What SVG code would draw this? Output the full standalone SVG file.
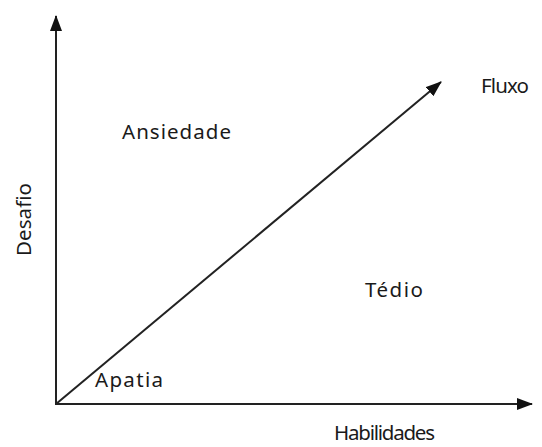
<svg xmlns="http://www.w3.org/2000/svg" width="542" height="447" viewBox="0 0 542 447">
<style>
.ax{stroke:#222;stroke-width:2;fill:none}
.lbl{font-family:"Noto Sans","DejaVu Sans",sans-serif;font-size:20.5px;fill:#1a1a1a}
</style>
<defs>
<marker id="ah" markerUnits="userSpaceOnUse" viewBox="0 0 16 12" refX="15" refY="6" markerWidth="16" markerHeight="12" orient="auto">
<path d="M0,0 L16,6 L0,12 z" fill="#111"/>
</marker>
</defs>
<rect width="542" height="447" fill="#fff"/>
<g id="connectors">
<line class="ax" x1="56" y1="405" x2="56" y2="16" marker-end="url(#ah)"/>
<line class="ax" x1="55" y1="404" x2="532" y2="404" marker-end="url(#ah)"/>
<line class="ax" x1="56" y1="404" x2="441" y2="82" marker-end="url(#ah)"/>
</g>
<g id="ansiedade"><text class="lbl" x="122" y="139" textLength="109" lengthAdjust="spacing">Ansiedade</text></g>
<g id="fluxo"><text class="lbl" x="481" y="93" textLength="48" lengthAdjust="spacing">Fluxo</text></g>
<g id="tedio"><text class="lbl" x="365" y="297" textLength="58" lengthAdjust="spacing">Tédio</text></g>
<g id="apatia"><text class="lbl" x="95" y="387" textLength="68" lengthAdjust="spacing">Apatia</text></g>
<g id="habilidades"><text class="lbl" x="334" y="440" textLength="101" lengthAdjust="spacing">Habilidades</text></g>
<g id="desafio"><text class="lbl" transform="translate(31,256) rotate(-90)" x="0" y="0" textLength="73" lengthAdjust="spacing">Desafio</text></g>
</svg>
